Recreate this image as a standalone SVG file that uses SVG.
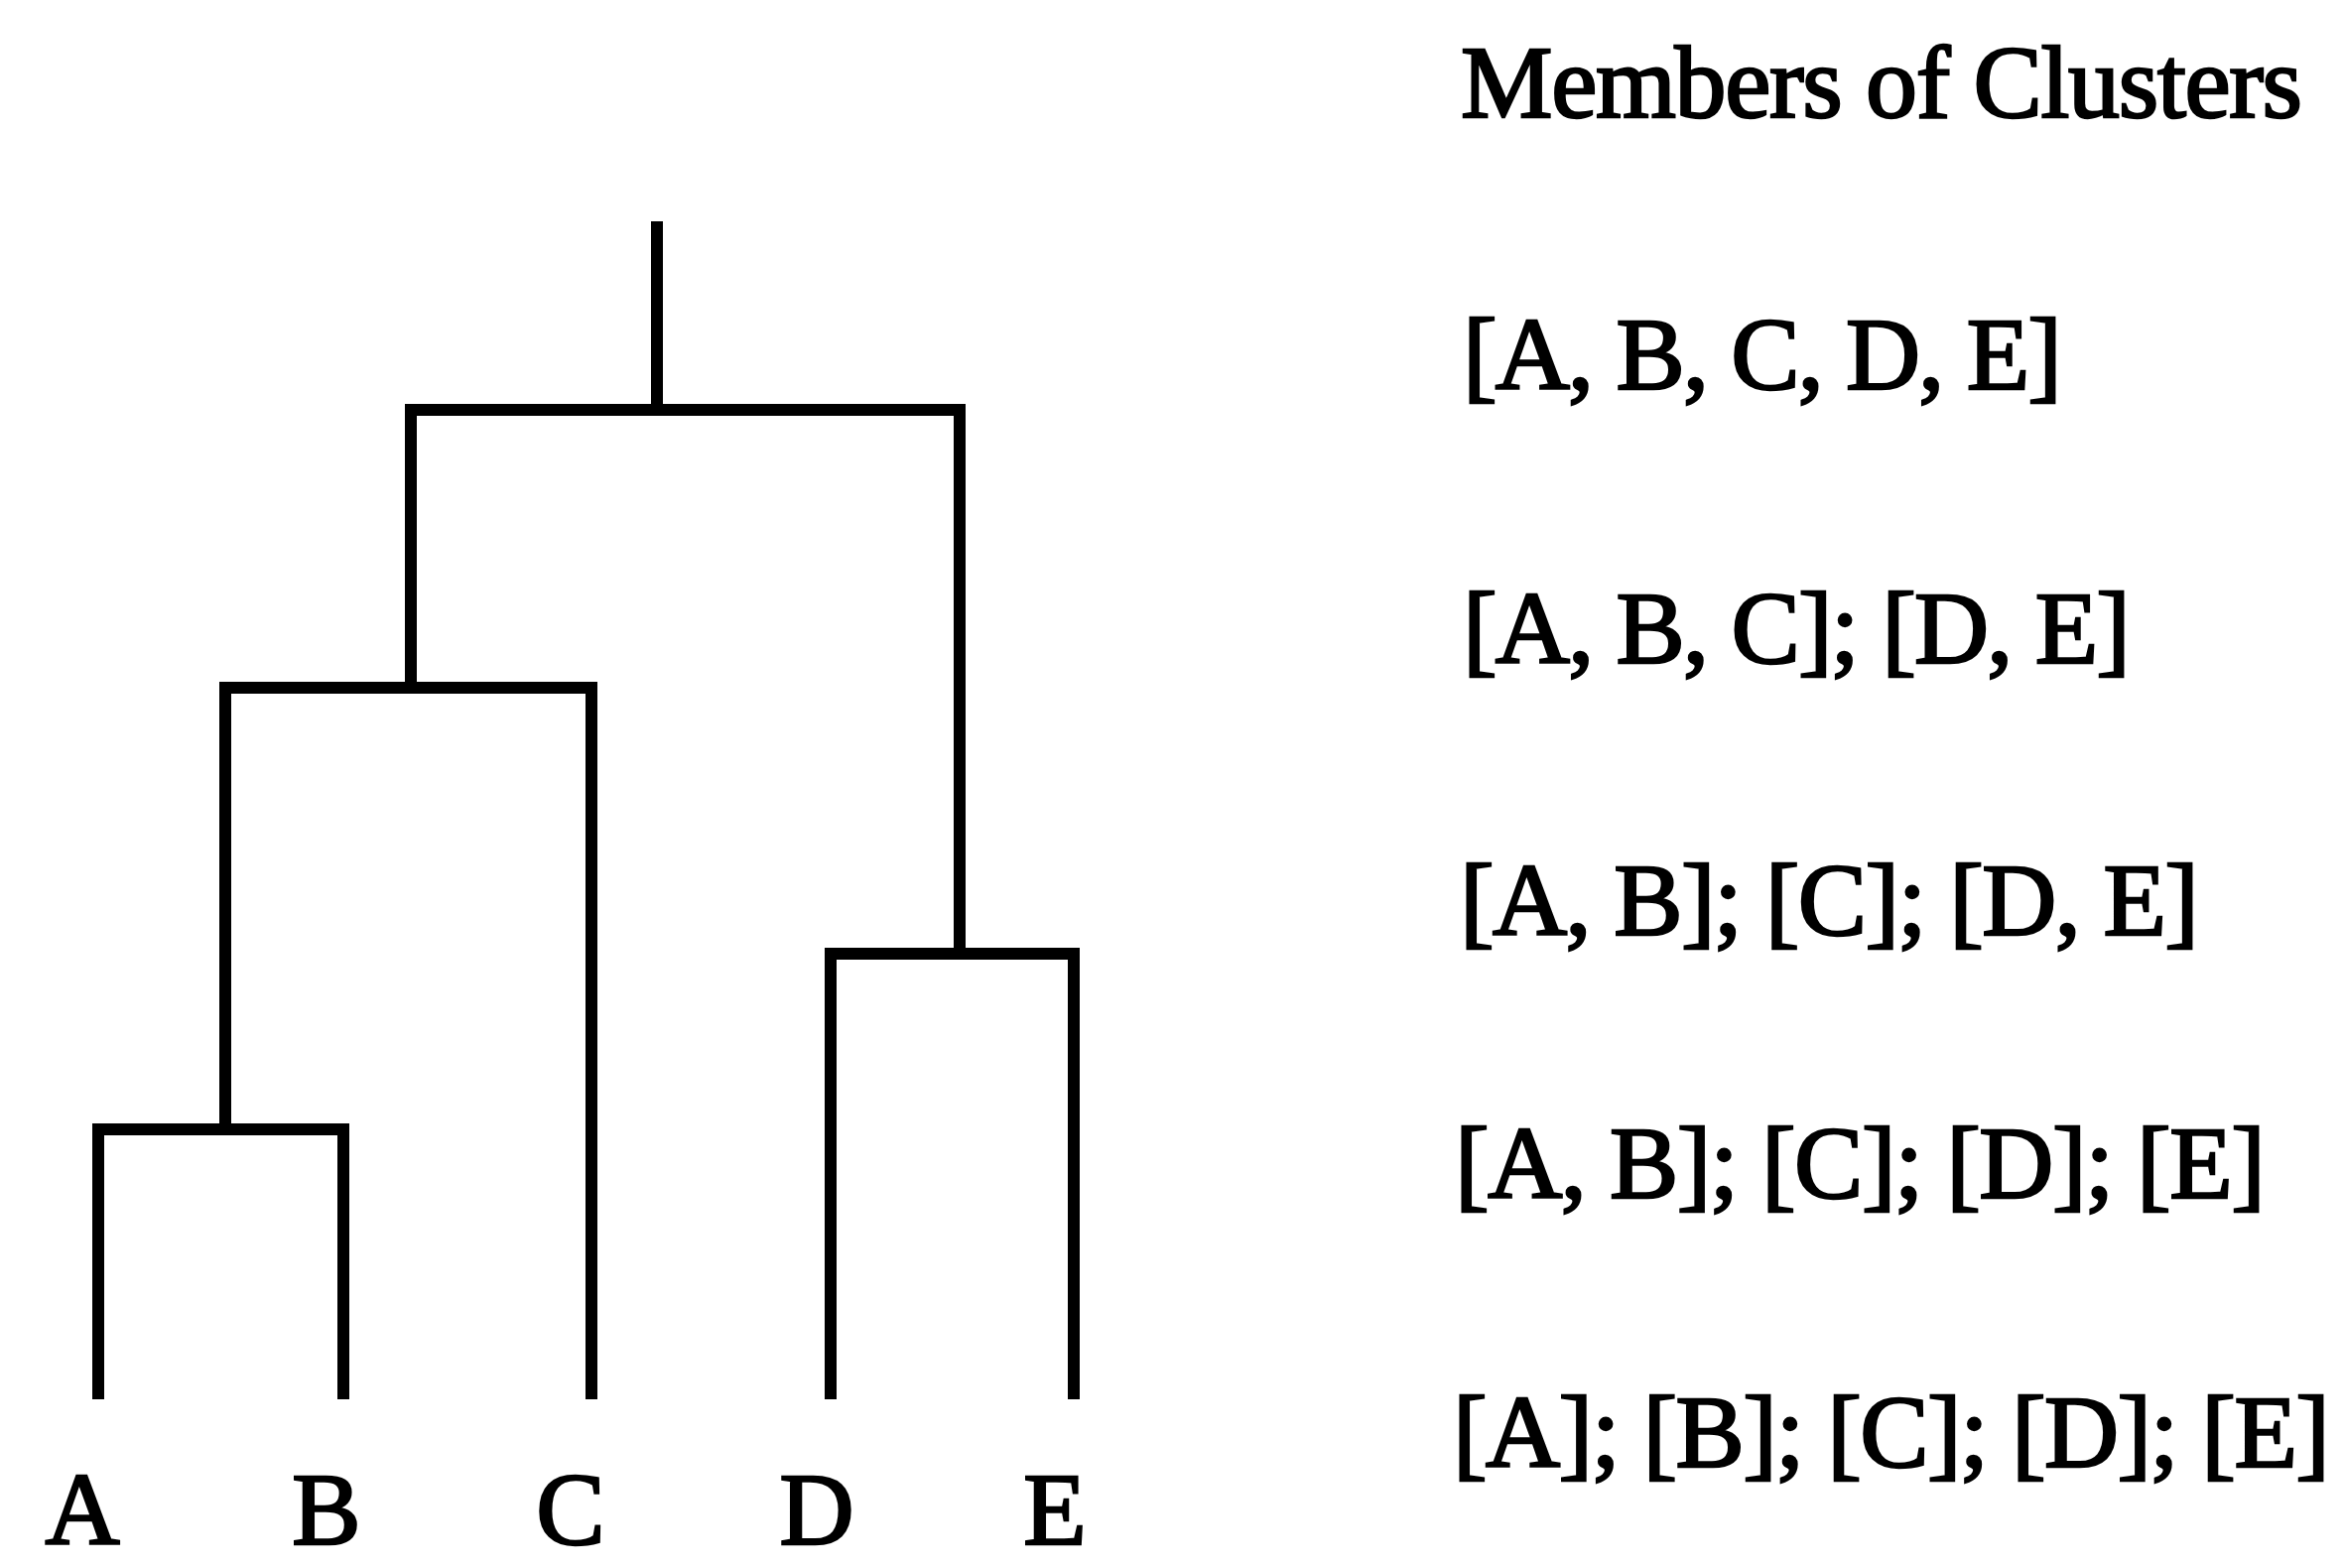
<svg xmlns="http://www.w3.org/2000/svg" width="2362" height="1580" viewBox="0 0 2362 1580">
  <style>
    .link { fill: none; stroke: #000; stroke-width: 12; stroke-linejoin: miter; stroke-linecap: butt; }
    .leaf { font-family: "Liberation Serif", "Times New Roman", serif; font-size: 104px; fill: #000; text-anchor: middle; stroke: #000; stroke-width: 2.5; }
    .row { font-family: "Liberation Serif", "Times New Roman", serif; font-size: 104px; fill: #000; stroke: #000; stroke-width: 2.5; }
  </style>
  <rect width="2362" height="1580" fill="#fff"/>

  <!-- dendrogram branches -->
  <g id="connectors">
    <path class="link" d="M662 223 V413"/>
    <path class="link" d="M414 693 V413 H967 V961"/>
    <path class="link" d="M227 1138 V693 H596 V1410"/>
    <path class="link" d="M99 1410 V1138 H346 V1410"/>
    <path class="link" d="M837 1410 V961 H1082 V1410"/>
  </g>

  <!-- leaf labels -->
  <g id="leaf-A"><text class="leaf" x="83" y="1556">A</text></g>
  <g id="leaf-B"><text class="leaf" x="329" y="1556">B</text></g>
  <g id="leaf-C"><text class="leaf" x="575" y="1556">C</text></g>
  <g id="leaf-D"><text class="leaf" x="823" y="1556">D</text></g>
  <g id="leaf-E"><text class="leaf" x="1063" y="1556">E</text></g>

  <!-- cluster membership at each level -->
  <g id="members">
    <text class="row" x="1472" y="118" textLength="848">Members of Clusters</text>
    <text class="row" x="1474" y="392" textLength="604">[A, B, C, D, E]</text>
    <text class="row" x="1474" y="668" textLength="673">[A, B, C]; [D, E]</text>
    <text class="row" x="1471" y="942" textLength="745">[A, B]; [C]; [D, E]</text>
    <text class="row" x="1466" y="1207" textLength="817">[A, B]; [C]; [D]; [E]</text>
    <text class="row" x="1464" y="1478" textLength="884">[A]; [B]; [C]; [D]; [E]</text>
  </g>
</svg>
